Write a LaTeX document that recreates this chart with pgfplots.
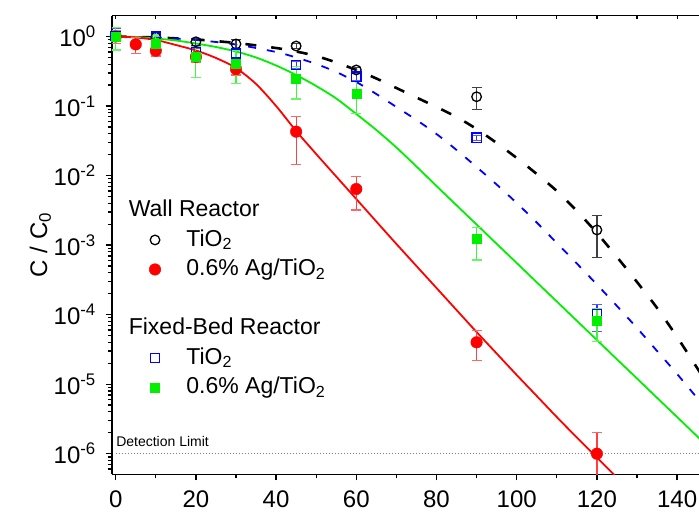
\documentclass[border=0pt]{standalone}
\usepackage{fontspec}
\setmainfont{Liberation Sans}
\usepackage{pgfplots}
\pgfplotsset{compat=1.18}
\usetikzlibrary{calc}
\definecolor{cred}{RGB}{255,0,0}
\definecolor{cgreen}{RGB}{0,240,0}
\definecolor{cblue}{RGB}{0,0,255}
\begin{document}
\begin{tikzpicture}
\begin{axis}[
  scale only axis, width=587pt, height=458.6pt,
  xmin=-0.92, xmax=145.46,
  ymode=log, ymin=5.053e-7, ymax=1.991,
  axis x line*=bottom, axis y line*=left,
  axis line style={line width=1.6pt},
  tick align=outside,
  major tick length=6pt, minor tick length=4pt,
  tick style={black, line width=1.3pt},
  xtick={0,20,...,140}, minor xtick={10,30,...,130},
  ytick={1e-6,1e-5,1e-4,1e-3,1e-2,1e-1,1},
  minor ytick={6e-7,7e-7,8e-7,9e-7,
    2e-6,3e-6,4e-6,5e-6,6e-6,7e-6,8e-6,9e-6,
    2e-5,3e-5,4e-5,5e-5,6e-5,7e-5,8e-5,9e-5,
    2e-4,3e-4,4e-4,5e-4,6e-4,7e-4,8e-4,9e-4,
    2e-3,3e-3,4e-3,5e-3,6e-3,7e-3,8e-3,9e-3,
    2e-2,3e-2,4e-2,5e-2,6e-2,7e-2,8e-2,9e-2,
    0.2,0.3,0.4,0.5,0.6,0.7,0.8,0.9},
  yticklabels={10\textsuperscript{-6},10\textsuperscript{-5},10\textsuperscript{-4},10\textsuperscript{-3},10\textsuperscript{-2},10\textsuperscript{-1},10\textsuperscript{0}},
  /pgf/number format/assume math mode=true,
  tick label style={font=\fontsize{24}{28}\selectfont},
  yticklabel style={anchor=east, inner sep=0pt, xshift=-10pt},
  xticklabel style={anchor=north, inner sep=0pt, text depth=0pt, yshift=-10pt},
  ylabel={C / C\textsubscript{0}},
  ylabel style={font=\fontsize{24}{28}\selectfont, at={(axis description cs:-0.122,0.5)}, anchor=center},
  legend style={draw=none, fill=none, at={(0.0634,0.6075)}, anchor=north west,
     inner sep=0pt, outer sep=0pt, row sep=0pt, column sep=25.6pt,
     font=\fontsize{23}{27}\selectfont,
     nodes={inner sep=0pt, text height=21pt, text depth=8.5pt}},
  legend cell align=left,
  legend image code/.code={\draw[#1] plot coordinates {(0pt,0pt)};},
]
% fitted curves
\addplot[forget plot, black, line width=2.6pt, dash pattern=on 11pt off 15pt, smooth] coordinates {
(0,1) (10,0.967) (20,0.906) (30,0.806) (40,0.683) (45,0.6085) (50,0.524) (55,0.4227)
(60,0.3298) (65,0.2489) (70,0.1816) (75,0.1326) (80,0.0968) (85,0.0695) (90,0.0467)
(95,0.0294) (100,0.01789) (105,0.01053) (110,0.005998) (115,0.003092) (120,0.001492)
(125,6.74e-4) (130,2.945e-4) (135,1.245e-4) (140,4.765e-5) (145,1.707e-5) (147,1.13e-5)};
\addplot[forget plot, cblue, line width=1.8pt, dash pattern=on 8pt off 11pt, smooth] coordinates {
(0,1) (10,0.967) (20,0.891) (30,0.7672) (40,0.5986) (45,0.4989) (50,0.4022) (55,0.3086)
(60,0.2216) (65,0.1489) (70,0.0968) (75,0.0630) (80,0.0396) (85,0.02331) (90,0.01327)
(95,7.435e-3) (100,4.029e-3) (105,2.113e-3) (110,1.072e-3) (115,5.434e-4) (120,2.71e-4)
(125,1.33e-4) (130,6.42e-5) (135,3.0e-5) (140,1.40e-5) (145,6.32e-6) (147,4.6e-6)};
\addplot[forget plot, cgreen, line width=1.8pt, smooth] coordinates {
(0,1) (5,0.9835) (10,0.9359) (15,0.876) (20,0.7931) (25,0.7063) (30,0.6085) (35,0.4989)
(40,0.3828) (45,0.2794) (50,0.1941) (55,0.1283) (60,0.0768) (65,0.04519) (70,0.02532)
(75,0.01350) (80,7.075e-3) (85,3.735e-3) (90,1.977e-3) (95,1.043e-3) (100,5.526e-4)
(105,2.915e-4) (110,1.544e-4) (115,8.15e-5) (120,4.315e-5) (125,2.277e-5) (130,1.206e-5)
(135,6.36e-6) (140,3.37e-6) (145,1.778e-6) (147,1.378e-6)};
\addplot[forget plot, cred, line width=1.8pt, smooth] coordinates {
(0,1) (5,0.968) (10,0.891) (15,0.755) (20,0.630) (25,0.491) (30,0.352) (35,0.2075)
(40,0.1001) (45,0.04375) (50,0.0204) (55,9.68e-3) (60,4.60e-3) (65,2.18e-3) (70,1.038e-3)
(75,5.0e-4) (80,2.415e-4) (85,1.164e-4) (90,5.62e-5) (95,2.76e-5) (100,1.355e-5)
(105,6.76e-6) (110,3.365e-6) (115,1.71e-6) (120,8.81e-7) (125,4.54e-7)};
% detection limit
\addplot[forget plot, gray, line width=0.9pt, dash pattern=on 1pt off 2pt] coordinates {(0,1e-6) (146,1e-6)};
\node[anchor=base west, inner sep=0pt, font=\fontsize{14}{16}\selectfont, yshift=7pt] at (axis cs:0.1,1e-6) {Detection Limit};
% legend header
\addlegendimage{empty legend}
\addlegendentry{\hspace*{-57.6pt}Wall Reactor}
% Wall TiO2
\addplot[only marks, black, mark=o, mark size=4.8pt, line width=1.3pt,
  error bars/.cd, y dir=both, y explicit,
  error bar style={line width=1.2pt, black!75},
  error mark options={rotate=90, mark size=5pt, line width=1.2pt, black!75}]
coordinates {
(0,1.0) += (0,0.08) -= (0,0.08)
(10,0.98) += (0,0.08) -= (0,0.08)
(20,0.84) += (0,0.10) -= (0,0.10)
(30,0.78) += (0,0.13) -= (0,0.12)
(45,0.73) += (0,0.06) -= (0,0.06)
(60,0.33) += (0,0.03) -= (0,0.03)
(90,0.136) += (0,0.048) -= (0,0.048)
(120,1.65e-3) += (0,1.0e-3) -= (0,0.98e-3)};
\addlegendentry{TiO\textsubscript{2}}
% Wall Ag/TiO2
\addplot[only marks, cred, mark=*, mark size=5.8pt, mark options={fill=cred, draw=cred},
  error bars/.cd, y dir=both, y explicit,
  error bar style={line width=1.2pt, cred!75},
  error mark options={rotate=90, mark size=5pt, line width=1.2pt, cred!60}]
coordinates {
(0,1.0) += (0,0.2) -= (0,0.2)
(5,0.77) += (0,0.2) -= (0,0.2)
(10,0.625) += (0,0.09) -= (0,0.1)
(20,0.51) += (0,0.08) -= (0,0.08)
(30,0.34) += (0,0.06) -= (0,0.06)
(45,0.0428) += (0,0.0275) -= (0,0.0283)
(60,6.4e-3) += (0,3.2e-3) -= (0,3.2e-3)
(90,4.0e-5) += (0,1.9e-5) -= (0,1.8e-5)
(120,1.0e-6) += (0,1.0e-6) -= (0,0.9e-6)};
\addlegendentry{0.6\% Ag/TiO\textsubscript{2}}
\addlegendimage{empty legend}
\addlegendentry{}
\addlegendimage{empty legend}
\addlegendentry{\hspace*{-57.6pt}Fixed-Bed Reactor}
% Fixed-bed TiO2
\addplot[only marks, cblue, mark=square, mark size=4.6pt, line width=1.3pt,
  error bars/.cd, y dir=both, y explicit,
  error bar style={line width=1.2pt, cblue!80},
  error mark options={rotate=90, mark size=5pt, line width=1.2pt, cblue!65}]
coordinates {
(0,1.02) += (0,0.28) -= (0,0.38)
(10,1.0) += (0,0.15) -= (0,0.15)
(20,0.6) += (0,0.08) -= (0,0.08)
(30,0.57) += (0,0.08) -= (0,0.08)
(45,0.39) += (0,0.05) -= (0,0.05)
(60,0.265) += (0,0.03) -= (0,0.03)
(90,0.035) += (0,0.003) -= (0,0.003)
(120,1.02e-4) += (0,0.39e-4) -= (0,0.45e-4)};
\addlegendentry{TiO\textsubscript{2}}
% Fixed-bed Ag/TiO2
\addplot[only marks, cgreen, mark=square*, mark size=4.5pt, mark options={fill=cgreen, draw=cgreen},
  error bars/.cd, y dir=both, y explicit,
  error bar style={line width=1.2pt, cgreen!75},
  error mark options={rotate=90, mark size=5pt, line width=1.2pt, cgreen!60}]
coordinates {
(0,1.0) += (0,0.36) -= (0,0.36)
(10,0.8) += (0,0.25) -= (0,0.22)
(20,0.52) += (0,0.19) -= (0,0.26)
(30,0.41) += (0,0.23) -= (0,0.2)
(45,0.25) += (0,0.118) -= (0,0.124)
(60,0.152) += (0,0.071) -= (0,0.073)
(90,1.22e-3) += (0,0.56e-3) -= (0,0.61e-3)
(120,8.2e-5) += (0,4.1e-5) -= (0,4.1e-5)};
\addlegendentry{0.6\% Ag/TiO\textsubscript{2}}
\end{axis}
\begin{axis}[
  scale only axis, width=587pt, height=458.6pt,
  xmin=-0.92, xmax=145.46, ymin=0, ymax=1,
  axis x line*=top, axis y line=none,
  axis line style={line width=1.6pt},
  xtick={0,10,...,140}, xticklabels={},
  tick align=inside, major tick length=3pt,
  tick style={black, line width=1.2pt},
]
\end{axis}
\pgfresetboundingbox
\path[use as bounding box] ($(current axis.south west)+(-112pt,-37.7pt)$) rectangle ($(current axis.north east)+(0pt,15.7pt)$);
\end{tikzpicture}
\end{document}
